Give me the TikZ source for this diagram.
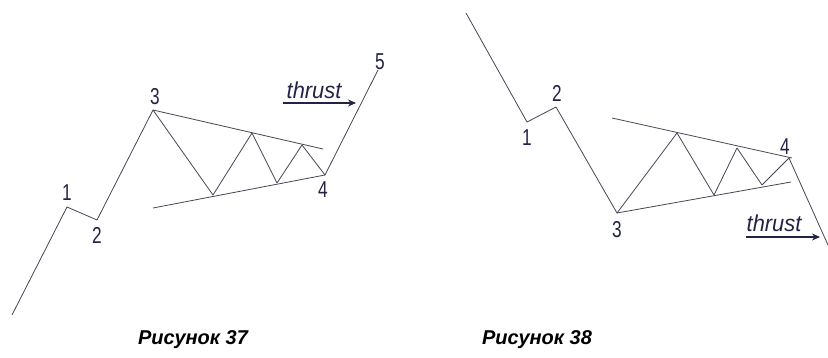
\documentclass[tikz,border=0pt]{standalone}
\usepackage{fontspec}
\setmainfont{Liberation Sans}
\usetikzlibrary{arrows.meta}
\definecolor{wavegray}{RGB}{70,70,85}
\definecolor{inkblue}{RGB}{35,35,70}
\tikzset{
  wave/.style={draw=wavegray, line width=0.8pt, line join=round},
  trend/.style={draw=wavegray, line width=0.8pt},
  % wave numbers
  wavenum/.style={font=\fontsize{23}{23}\selectfont, text=inkblue,
    inner sep=0pt, xscale=0.75},
  thrustlbl/.style={font=\itshape\fontsize{23}{23}\selectfont, text=inkblue,
    inner sep=0pt, anchor=base, xscale=0.95},
  thrustarrow/.style={-{Stealth[length=8pt,width=7pt]}, draw=inkblue,
    line width=1.3pt},
  figcaption/.style={font=\bfseries\itshape\fontsize{20}{20}\selectfont,
    inner sep=0pt},
}

\begin{document}
\begin{tikzpicture}[x=1pt, y=-1pt]
  \clip (0,0) rectangle (828,358);
  \fill[white] (0,0) rectangle (828,358);

  %% -- Figure 37: wave points --
  \coordinate (s37) at (12,315);
  \coordinate (a1)  at (67,207);
  \coordinate (a2)  at (97,220);
  \coordinate (a3)  at (153,110);
  \coordinate (za)  at (213,195);
  \coordinate (zb)  at (252,133);
  \coordinate (zc)  at (277,183);
  \coordinate (zd)  at (302,145);
  \coordinate (a4)  at (325,175);
  \coordinate (a5)  at (378,70);
  \coordinate (u37) at (323,149);
  \coordinate (l37) at (153,208);

  \draw[trend] (a3) -- (u37);
  \draw[trend] (l37) -- (a4);
  \draw[wave] (s37) -- (a1) -- (a2) -- (a3) -- (za) -- (zb) -- (zc)
    -- (zd) -- (a4) -- (a5);

  \node[wavenum] (n1a) at (67,193)  {1};
  \node[wavenum] (n2a) at (97,235)  {2};
  \node[wavenum] (n3a) at (155,97)  {3};
  \node[wavenum] (n4a) at (323,190) {4};
  \node[wavenum] (n5a) at (380,62)  {5};

  \node[thrustlbl] (thrA) at (314,99) {thrust};
  \coordinate (tA0) at (283,103);
  \coordinate (tA1) at (356,103);
  \draw[thrustarrow] (tA0) -- (tA1);

  %% -- Figure 38: wave points --
  \coordinate (s38) at (466,13);
  \coordinate (b1)  at (527,122);
  \coordinate (b2)  at (556,107);
  \coordinate (b3)  at (617,213);
  \coordinate (zA)  at (677,133);
  \coordinate (zB)  at (714,195);
  \coordinate (zC)  at (737,148);
  \coordinate (zD)  at (762,185);
  \coordinate (b4)  at (789,158);
  \coordinate (b5)  at (832,254);
  \coordinate (u38a) at (612,118);
  \coordinate (u38b) at (792,158);
  \coordinate (l38)  at (791,182);

  \draw[trend] (u38a) -- (u38b);
  \draw[trend] (b3) -- (l38);
  \draw[wave] (s38) -- (b1) -- (b2) -- (b3) -- (zA) -- (zB) -- (zC)
    -- (zD) -- (b4) -- (b5);

  \node[wavenum] (n1b) at (527,138) {1};
  \node[wavenum] (n2b) at (557,93)  {2};
  \node[wavenum] (n3b) at (617,230) {3};
  \node[wavenum] (n4b) at (785,147) {4};
  \node[wavenum] (n5b) at (833,278) {5};

  \node[thrustlbl] (thrB) at (774,232) {thrust};
  \coordinate (tB0) at (746,237);
  \coordinate (tB1) at (820,237);
  \draw[thrustarrow] (tB0) -- (tB1);

  %% -- Captions --
  \node[figcaption] (cap37) at (193,340) {Рисунок 37};
  \node[figcaption] (cap38) at (537,340) {Рисунок 38};
\end{tikzpicture}
\end{document}
